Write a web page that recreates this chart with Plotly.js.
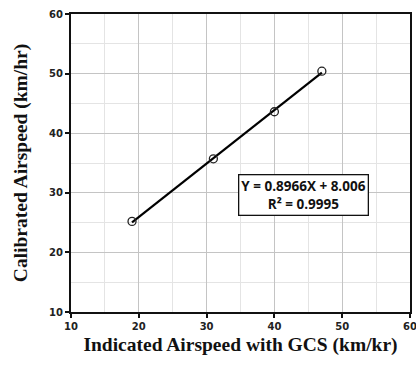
<!DOCTYPE html>
<html>
<head>
<meta charset="utf-8">
<script src="https://cdn.plot.ly/plotly-3.0.1.min.js"></script>
<style>html,body{margin:0;padding:0;background:#fff;}#chart{width:416px;height:369px;}</style>
</head>
<body>
<div id="chart"></div>
<script>
// Measured data
const indicatedSpeed = [19, 31, 40, 47];
const calibratedSpeed = [25.2, 35.7, 43.6, 50.4];
// Linear fit shown in chart
const fitSlope = 0.8966;
const fitIntercept = 8.006;
const fitLabel = "Y = 0.8966X + 8.006<br>R² = 0.9995";
const xTicks = [10, 20, 30, 40, 50, 60];
const yTicks = [10, 20, 30, 40, 50, 60];

const fitX = [Math.min(...indicatedSpeed), Math.max(...indicatedSpeed)];
const fitY = fitX.map(x => fitSlope * x + fitIntercept);

const traces = [
  {x: fitX, y: fitY, mode: 'lines', line: {color: '#000', width: 2.2}, hoverinfo: 'skip', showlegend: false},
  {x: indicatedSpeed, y: calibratedSpeed, mode: 'markers', showlegend: false,
   marker: {symbol: 'circle-open', size: 8, color: '#222', line: {width: 1.3, color: '#222'}}}
];

const tickFont = {family: 'DejaVu Sans, Verdana, sans-serif', size: 10, color: '#222', weight: 'bold'};
const titleFont = {family: 'Liberation Serif, Times New Roman, serif', size: 19.5, color: '#111', weight: 'bold'};

const layout = {
  width: 416, height: 369,
  margin: {l: 71, r: 6, t: 14, b: 57},
  paper_bgcolor: '#fff', plot_bgcolor: '#fff',
  font: tickFont,
  xaxis: {
    range: [10, 60], tickvals: xTicks, ticktext: xTicks.map(String),
    showline: true, linecolor: '#111', linewidth: 2, mirror: true,
    ticks: 'outside', ticklen: 4, tickwidth: 2, tickcolor: '#111',
    showgrid: true, gridcolor: '#c4c4c4', gridwidth: 1.2,
    minor: {dtick: 5, showgrid: true, gridcolor: '#e4e4e4', gridwidth: 1},
    zeroline: false, tickfont: tickFont, ticklabeloverflow: 'allow',
    title: {text: 'Indicated Airspeed with GCS (km/kr)', font: titleFont, standoff: 6}
  },
  yaxis: {
    range: [10, 60], tickvals: yTicks, ticktext: yTicks.map(String),
    showline: true, linecolor: '#111', linewidth: 2, mirror: true,
    ticks: 'outside', ticklen: 4, tickwidth: 2, tickcolor: '#111',
    showgrid: true, gridcolor: '#c4c4c4', gridwidth: 1.2,
    minor: {dtick: 5, showgrid: true, gridcolor: '#e4e4e4', gridwidth: 1},
    zeroline: false, tickfont: tickFont, ticklabeloverflow: 'allow',
    title: {text: 'Calibrated Airspeed (km/hr)', font: titleFont, standoff: 16}
  },
  annotations: [{
    x: 44.3, y: 29.6, xref: 'x', yref: 'y', text: fitLabel, showarrow: false,
    font: {family: 'Open Sans, Arial, sans-serif', size: 13.5, color: '#111', weight: 'bold'},
    bgcolor: '#fff', bordercolor: '#111', borderwidth: 1.3, borderpad: 2, align: 'center'
  }]
};

Plotly.newPlot('chart', traces, layout, {displayModeBar: false, staticPlot: true});
</script>
</body>
</html>
